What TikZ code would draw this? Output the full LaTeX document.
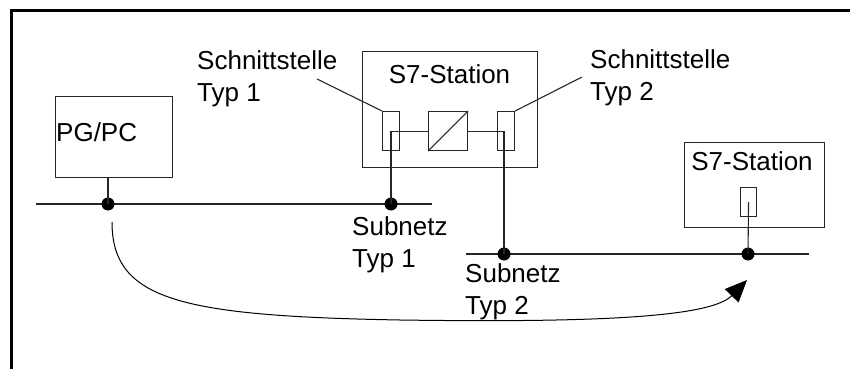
\documentclass[tikz,border=0pt]{standalone}
\usepackage{fontspec}
\setmainfont{Liberation Sans}
\usetikzlibrary{arrows.meta,positioning}

\begin{document}
\begin{tikzpicture}[
  x=1pt, y=-1pt,
  every node/.style={font=\fontsize{26}{32}\selectfont},
  box/.style={rectangle, draw=black!85, line width=1.1pt, inner sep=0pt},
  port/.style={box, minimum width=17pt, minimum height=39pt},
  bus/.style={line width=1.1pt, draw=black!85},
  lbl/.style={anchor=north west, inner sep=0pt, align=left},
  tap/.style={circle, fill=black, inner sep=0pt, minimum size=13pt},
  arrow/.style={-{Triangle[length=22pt, width=19pt]}, line width=1pt}
]
\useasboundingbox (0,0) rectangle (850,369);
% frame
\draw[line width=3pt] (11,369) -- (11,11) -- (850,11);

% PG/PC
\node[box, minimum width=117pt, minimum height=81pt, anchor=north west] (pgpc) at (55,96) {};
\node[anchor=base west, inner sep=0pt] (pgpcname) at (56,141) {PG/PC};

% S7-Station with two interfaces
\node[box, minimum width=175pt, minimum height=116pt, anchor=north west] (stationA) at (362,51) {};
\node[anchor=base, inner sep=0pt] (stationAname) at (449.5,83) {S7-Station};
\node[port, anchor=north west] (portA) at (382,111) {};
\node[box, minimum size=39pt, anchor=north west] (conv) at (428,111) {};
\draw[bus] (conv.south west) -- (conv.north east);
\node[port, anchor=north west] (portB) at (497,111) {};

% S7-Station on subnet 2
\node[box, minimum width=140pt, minimum height=85pt, anchor=north west] (stationB) at (684,142) {};
\node[anchor=base, inner sep=0pt] (stationBname) at (752,170) {S7-Station};
\node[port, minimum width=16pt, minimum height=29pt, anchor=north west] (portC) at (740,187) {};

% subnets
\coordinate (netAw) at (36,204);
\coordinate (netAe) at (432,204);
\coordinate (netBw) at (466,254);
\coordinate (netBe) at (809,254);
\draw[bus] (netAw) -- (netAe);
\draw[bus] (netBw) -- (netBe);

\node[tap] (tapPG) at (108,204) {};
\node[tap] (tapA) at (391,204) {};
\node[tap] (tapB) at (504,254) {};
\node[tap] (tapC) at (748,254) {};

\draw[bus] (tapPG.center) -- (tapPG.center |- pgpc.south);
\draw[bus] (tapA.center) |- (conv.west);
\draw[bus] (tapB.center) |- (conv.east);
\draw[bus] (tapC.center) -- (portC.center);

% labels
\node[lbl] (ifA) at (197,50) {Schnittstelle\\Typ 1};
\node[lbl] (ifB) at (590,49) {Schnittstelle\\Typ 2};
\node[lbl] (netA) at (352,216) {Subnetz\\Typ 1};
\node[lbl] (netB) at (465,263) {Subnetz\\Typ 2};

\coordinate (leadA) at (317,79);
\coordinate (leadB) at (582,77);
\draw[bus] (leadA) -- (portA.north west);
\draw[bus] (leadB) -- (portB.north east);

% communication path
\coordinate (pathS) at (112,222);
\coordinate (pathE) at (747,280);
\draw[arrow] (pathS) .. controls (112,300) and (180,316) .. (400,320)
  .. controls (610,323) and (712,316) .. (pathE);
\end{tikzpicture}
\end{document}
